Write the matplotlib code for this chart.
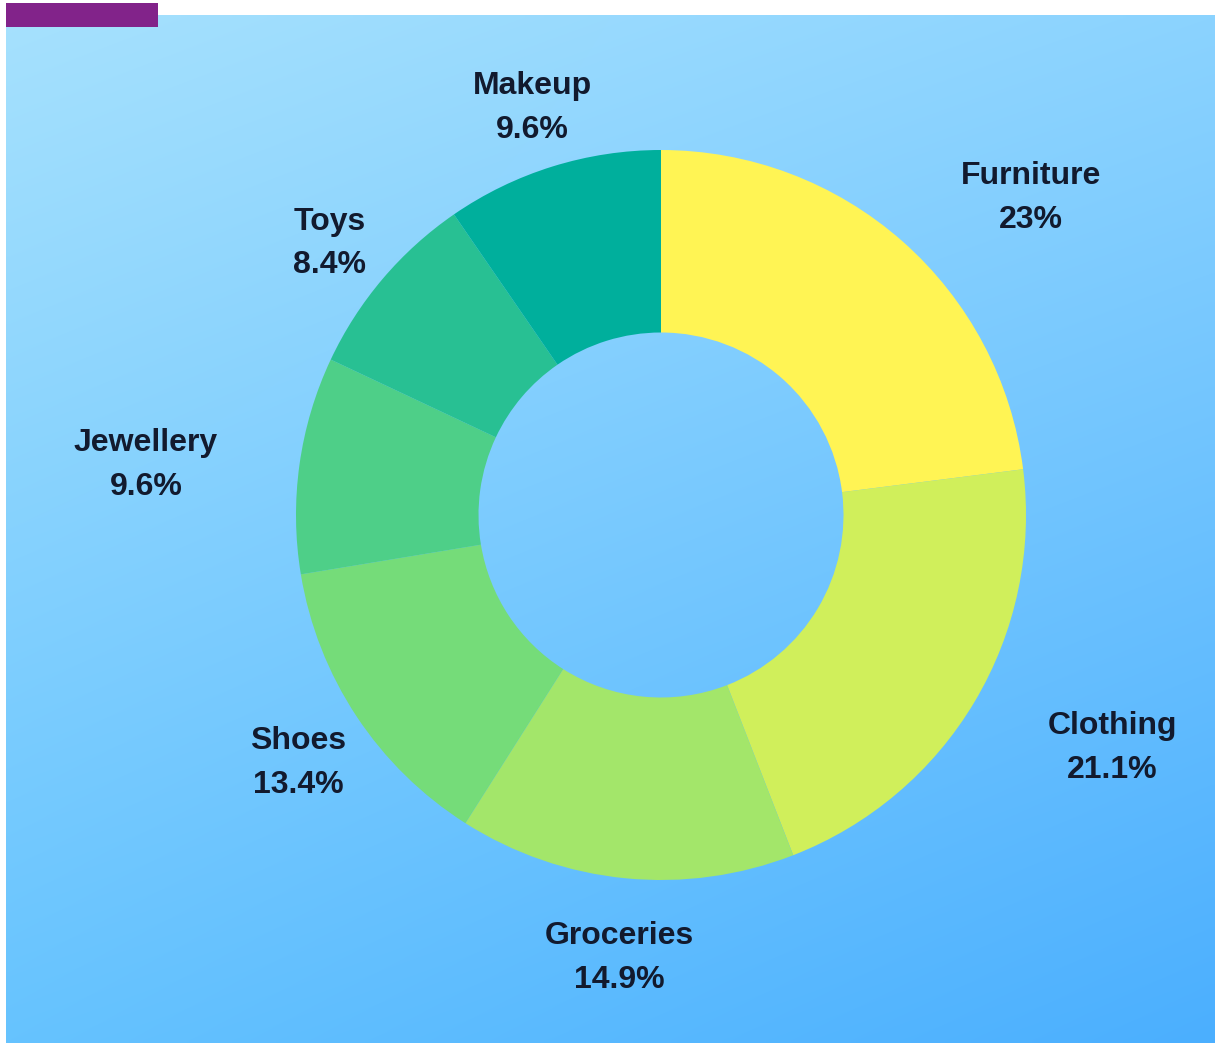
import numpy as np
import matplotlib
matplotlib.use('Agg')
import matplotlib.pyplot as plt
from matplotlib.colors import to_rgb
from matplotlib.patches import Rectangle

# ============================================================
# DATA
# ============================================================
categories = ["Furniture", "Clothing", "Groceries", "Shoes", "Jewellery", "Toys", "Makeup"]
shares = [23, 21.1, 14.9, 13.4, 9.6, 8.4, 9.6]
share_labels = ["23%", "21.1%", "14.9%", "13.4%", "9.6%", "8.4%", "9.6%"]

# ============================================================
# STYLE
# ============================================================
colors = ["#FFF454", "#D0EF5B", "#A3E66A", "#75DC79", "#4ECF88", "#28C093", "#00AF9C"]
# label centres, in units of the outer radius, relative to the ring centre
label_pos = [(1.014, 0.868), (1.236, -0.639), (-0.115, -1.214), (-0.995, -0.680),
             (-1.411, 0.136), (-0.907, 0.744), (-0.353, 1.114)]
TEXT_COLOR = "#121A2E"
W, H = 1215, 1043
CX, CY, R = 661, H - 515, 365

fig = plt.figure(figsize=(W / 100, H / 100), dpi=100)
fig.patch.set_facecolor("white")
ax = fig.add_axes([0, 0, 1, 1])

# gradient panel (bilinear between four corner colours)
tl, tr = np.array(to_rgb("#A6E1FD")), np.array(to_rgb("#8BD3FF"))
bl, br = np.array(to_rgb("#66C3FF")), np.array(to_rgb("#4BAFFF"))
ny, nx = 200, 200
u = np.linspace(0, 1, nx)[None, :, None]
v = np.linspace(0, 1, ny)[:, None, None]
grad = (1 - v) * ((1 - u) * tl + u * tr) + v * ((1 - u) * bl + u * br)
ax.imshow(grad, extent=[6, W, 0, H - 15], origin='upper', zorder=0, interpolation='bilinear')

# purple tab top-left
ax.add_patch(Rectangle((6, H - 27), 152, 24, facecolor="#82238A", edgecolor='none', zorder=1))

wedges, _ = ax.pie(shares, colors=colors, startangle=90, counterclock=False,
                   center=(CX, CY), radius=R, frame=True,
                   wedgeprops=dict(width=R * 0.5, edgecolor='none', zorder=2))
ax.set_xlim(0, W)
ax.set_ylim(0, H)
ax.set_aspect('equal')
ax.axis('off')

for name, lab, (dx, dy) in zip(categories, share_labels, label_pos):
    ax.text(CX + dx * R, CY + dy * R, f"{name}\n{lab}", ha='center', va='center',
            fontsize=23, fontweight='bold', family=['Liberation Sans', 'DejaVu Sans'],
            color=TEXT_COLOR, linespacing=1.6, zorder=3)

fig.savefig("out.png", dpi=100)
